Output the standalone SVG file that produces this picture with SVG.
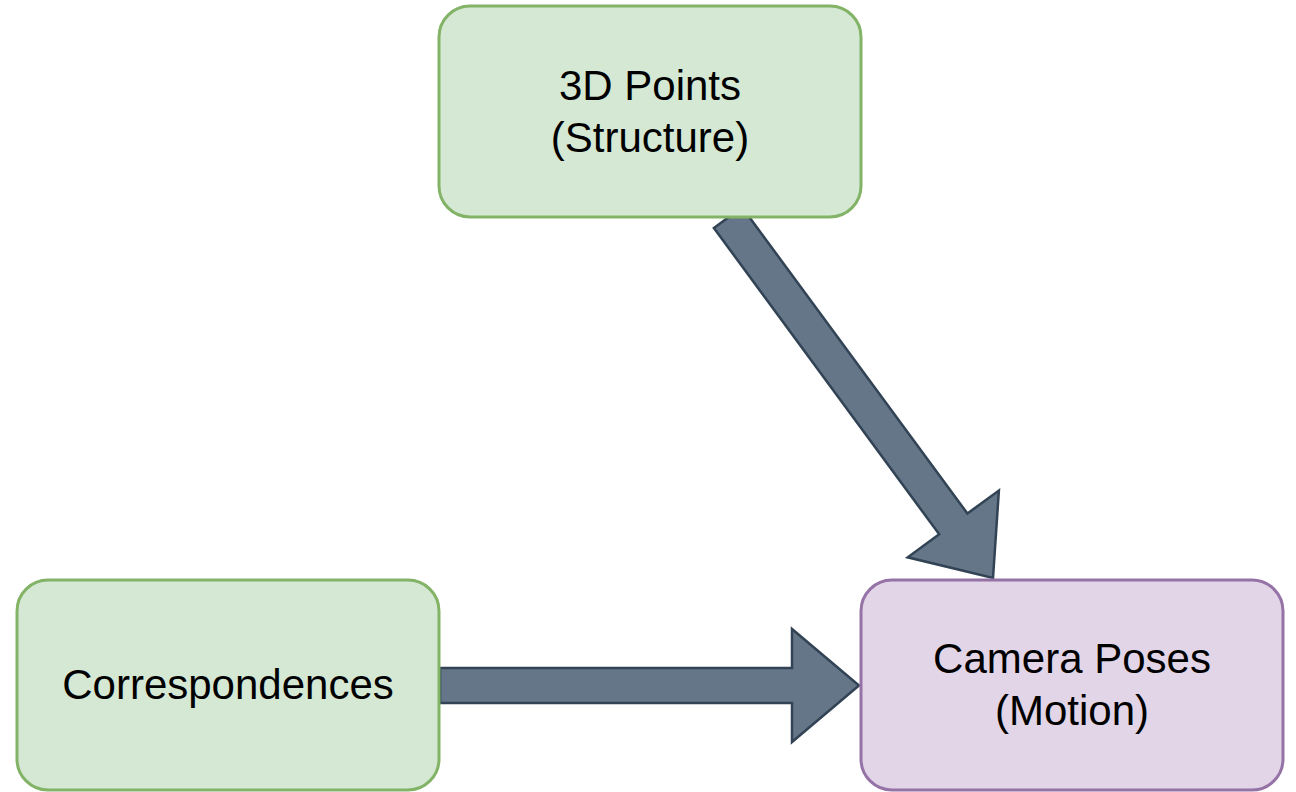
<svg xmlns="http://www.w3.org/2000/svg" width="1296" height="792" viewBox="0 0 1296 792">
<style>
.green{fill:#d5e8d4;stroke:#82b366;stroke-width:3}
.purple{fill:#e1d5e7;stroke:#9673a6;stroke-width:3}
.arrow{fill:#647687;stroke:#314354;stroke-width:2.5;stroke-linejoin:miter}
.lbl{font-family:"Liberation Sans",Arial,sans-serif;font-size:42px;fill:#000;text-anchor:middle}
</style>
<rect width="1296" height="792" fill="#ffffff"/>
<g id="connectors">
<polygon class="arrow" points="742.1,207.3 967.4,513.5 998.9,490.5 993,578 907.7,557.3 939.2,534.3 713.9,228"/>
<polygon class="arrow" points="440,668 792,668 792,629 859,685.5 792,742 792,703 440,703"/>
</g>
<g id="node-3d-points">
<rect class="green" x="439" y="6" width="422" height="211" rx="31" ry="31"/>
<text class="lbl" x="650" y="100">3D Points</text>
<text class="lbl" x="650" y="152">(Structure)</text>
</g>
<g id="node-correspondences">
<rect class="green" x="17" y="580" width="422" height="210" rx="31" ry="31"/>
<text class="lbl" x="228" y="699">Correspondences</text>
</g>
<g id="node-camera-poses">
<rect class="purple" x="861" y="580" width="422" height="210" rx="31" ry="31"/>
<text class="lbl" x="1072" y="673">Camera Poses</text>
<text class="lbl" x="1072" y="725">(Motion)</text>
</g>
</svg>
